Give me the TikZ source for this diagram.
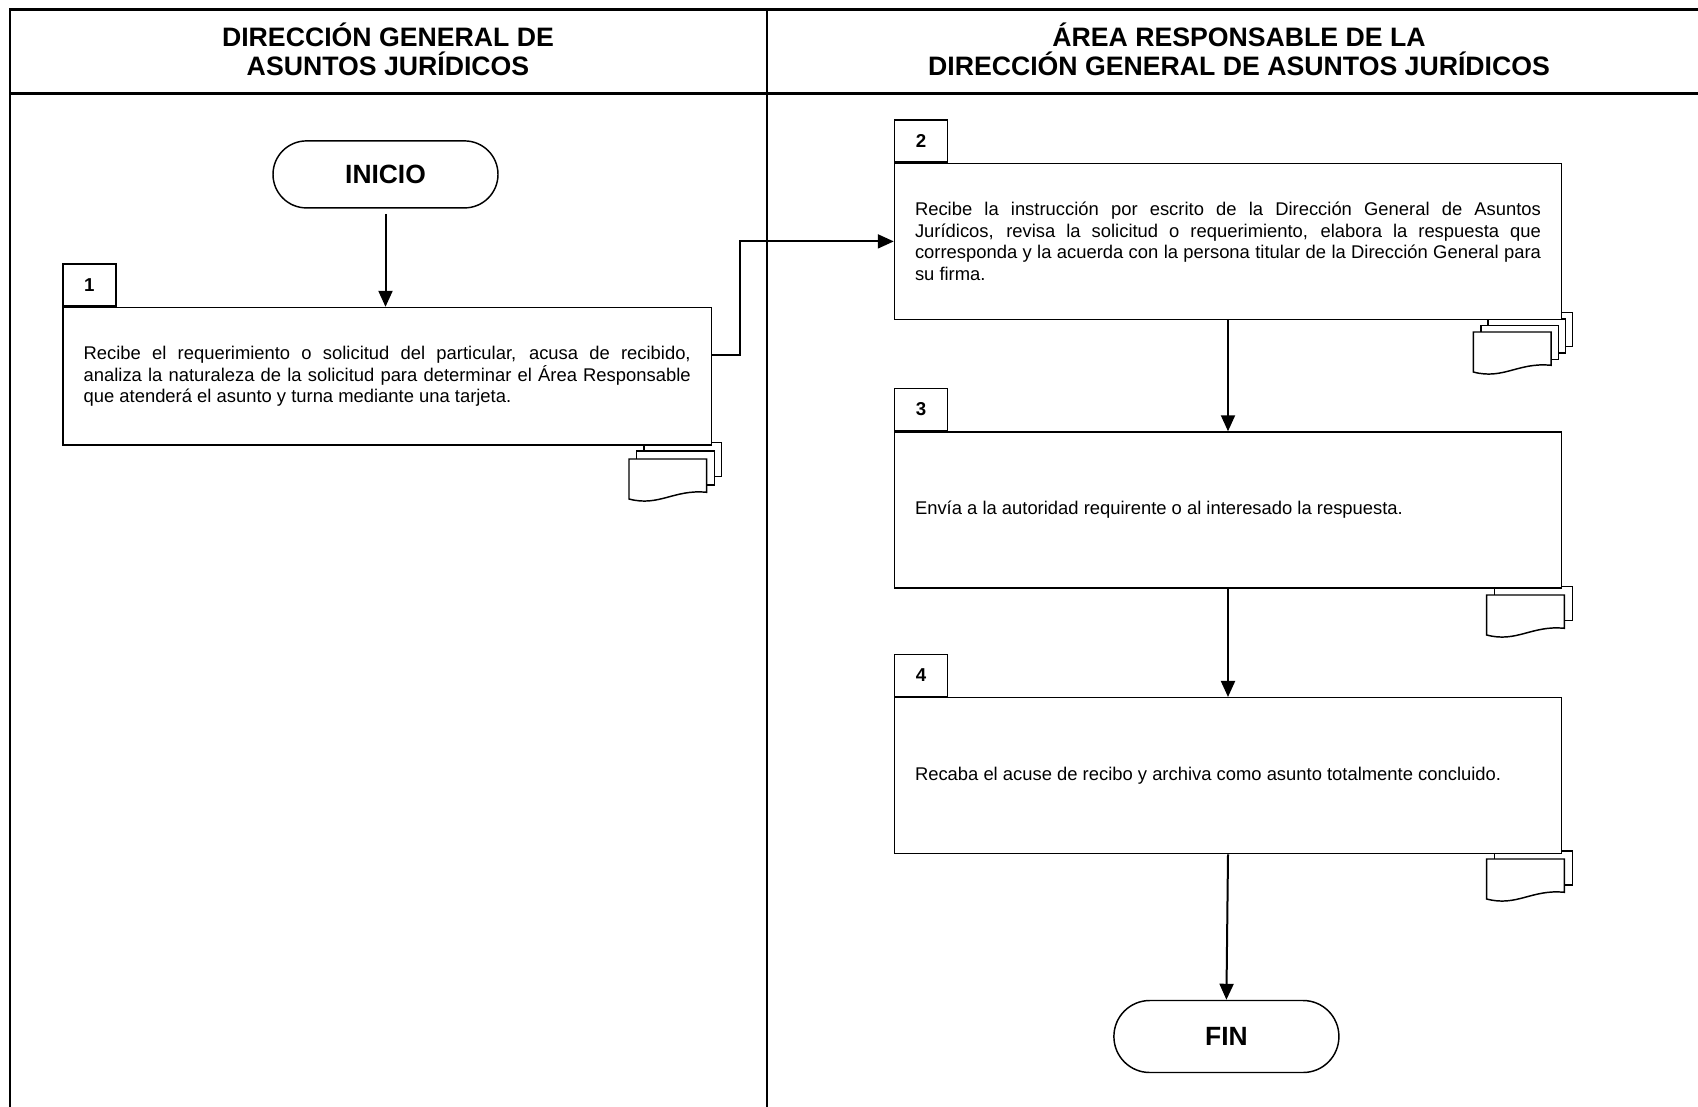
\documentclass[tikz,border=0pt]{standalone}
\usepackage{fontspec}
\setmainfont{Liberation Sans}
\usetikzlibrary{arrows.meta}
\tikzset{
  pics/backdoc/.style={code={\draw[docsheet] (0,0) rectangle (77.7,34);}},
  pics/frontdoc/.style={code={\draw[docsheet] (0,0) -- (77.7,0) -- (77.7,33.3) .. controls (45,30) and (30,48) .. (0,40) -- cycle;}}
}
\begin{document}
\begin{tikzpicture}[x=0.75pt,y=-0.75pt,
  frame/.style={line width=1.9pt},
  procbox/.style={draw,line width=1.1pt,fill=white,rectangle,inner sep=0pt,minimum width=500.25pt,minimum height=117pt,font=\fontsize{13.8}{16.1}\selectfont},
  numbox/.style={draw,line width=1.1pt,fill=white,inner sep=0pt,minimum width=39.75pt,minimum height=31.5pt,font=\fontsize{14}{16}\selectfont\bfseries},
  term/.style={draw,line width=1.1pt,fill=white,inner sep=0pt,minimum width=168.75pt,font=\fontsize{19.8}{23}\selectfont\bfseries},
  hdr/.style={align=center,font=\fontsize{20}{21.5}\selectfont\bfseries},
  arr/.style={line width=1.5pt,-{Triangle[length=12pt,width=10.5pt]}},
  docsheet/.style={draw,line width=1.1pt,fill=white}
]
\useasboundingbox (0,0) rectangle (1698,1106);
% frame
\draw[frame] (10,1112) -- (10,9.7) -- (1712,9.7);
\draw[frame] (10,93.3) -- (1712,93.3);
\draw[frame] (766.8,9.7) -- (766.8,1112);
% headers
\node[hdr] (h1) at (388,49.2) {DIRECCIÓN GENERAL DE\\ASUNTOS JURÍDICOS};
\node[hdr] (h2) at (1239,49.2) {ÁREA RESPONSABLE DE LA\\DIRECCIÓN GENERAL DE ASUNTOS JURÍDICOS};
% document icons (behind boxes)
\pic at (644,442.7) {backdoc};
\pic at (636.7,451) {backdoc};
\pic at (629,459) {frontdoc};
\pic at (1494.6,312.3) {backdoc};
\pic at (1488,319) {backdoc};
\pic at (1481,325.5) {backdoc};
\pic at (1473.3,332) {frontdoc};
\pic at (1494.6,586.7) {backdoc};
\pic at (1486.7,595) {frontdoc};
\pic at (1494.6,851) {backdoc};
\pic at (1486.7,859) {frontdoc};
% nodes
\node[term,minimum height=50.25pt,rounded corners=25.1pt] (inicio) at (385.5,174.4) {INICIO};
\node[procbox,minimum width=486.6pt,minimum height=103.1pt] (b1) at (387.2,376.3) {\parbox{455.3pt}{Recibe el requerimiento o solicitud del particular, acusa de recibido,\linebreak analiza la naturaleza de la solicitud para determinar el Área Responsable\linebreak que atenderá el asunto y turna mediante una tarjeta.}};
\node[numbox,anchor=south west] (n1) at (b1.north west) {1};
\node[procbox] (b2) at (1228,241.4) {\parbox{469.5pt}{Recibe la instrucción por escrito de la Dirección General de Asuntos\linebreak Jurídicos, revisa la solicitud o requerimiento, elabora la respuesta que\linebreak corresponda y la acuerda con la persona titular de la Dirección General para\linebreak su firma.}};
\node[numbox,anchor=south west] (n2) at (b2.north west) {2};
\node[procbox] (b3) at (1228,510) {\parbox{469.5pt}{Envía a la autoridad requirente o al interesado la respuesta.}};
\node[numbox,anchor=south west] (n3) at (b3.north west) {3};
\node[procbox] (b4) at (1228,775.7) {\parbox{469.5pt}{Recaba el acuse de recibo y archiva como asunto totalmente concluido.}};
\node[numbox,anchor=south west] (n4) at (b4.north west) {4};
\node[term,minimum height=54pt,rounded corners=26.9pt] (fin) at (1226.4,1036.5) {FIN};
% connectors
\draw[arr,shorten <=4pt] (inicio.south) -- (inicio.south |- b1.north);
\draw[arr] ([yshift=16pt]b1.east) -- ++(28,0) |- (b2.west);
\draw[arr] (b2.south) -- (b3.north);
\draw[arr] (b3.south) -- (b4.north);
\draw[arr] (b4.south) -- (fin.north);
\end{tikzpicture}
\end{document}
